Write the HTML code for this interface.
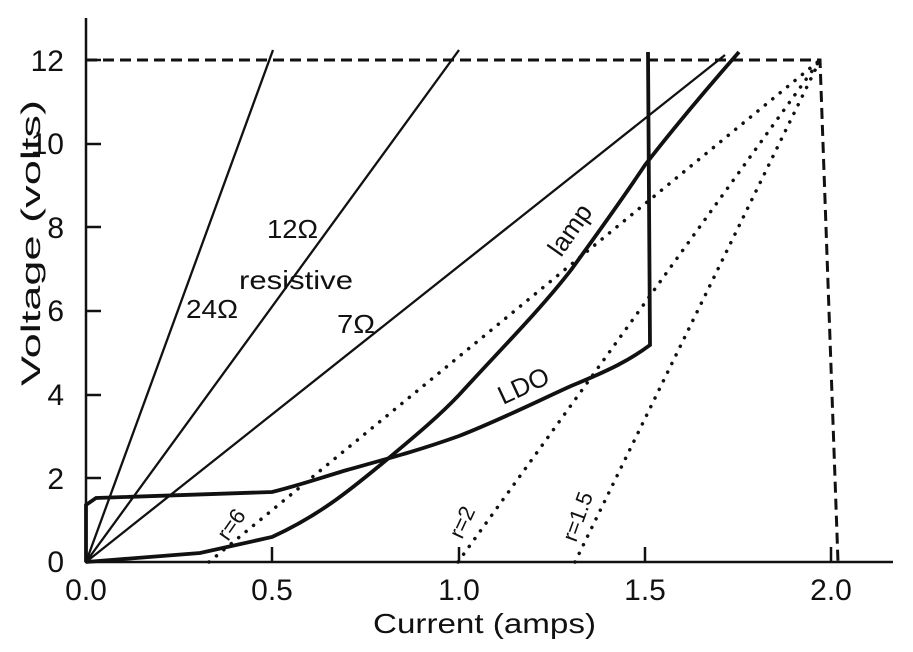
<!DOCTYPE html>
<html><head><style>body{margin:0;background:#fff}svg{display:block}</style></head><body>
<svg width="913" height="652" xmlns="http://www.w3.org/2000/svg" font-family="Liberation Sans, Arial, sans-serif" fill="none" stroke="#111">
<g stroke-width="2.5">
<line x1="86" y1="18" x2="86" y2="563"/>
<line x1="85" y1="562" x2="893" y2="562"/>
<line x1="86" y1="478" x2="101" y2="478"/><line x1="86" y1="395" x2="101" y2="395"/><line x1="86" y1="311" x2="101" y2="311"/><line x1="86" y1="227" x2="101" y2="227"/><line x1="86" y1="144" x2="101" y2="144"/><line x1="86" y1="60" x2="101" y2="60"/>
<line x1="272" y1="562" x2="272" y2="547"/><line x1="459" y1="562" x2="459" y2="547"/><line x1="645" y1="562" x2="645" y2="547"/><line x1="831" y1="562" x2="831" y2="547"/>
</g>
<g stroke-width="2.3">
<line x1="86" y1="562" x2="273" y2="50"/>
<line x1="86" y1="562" x2="459" y2="50"/>
<line x1="86" y1="562" x2="725" y2="55"/>
</g>
<g stroke-width="3.8">
<path d="M86,562 L200,553 L272,537 C320,515 350,490 384,462 C420,432 440,415 459,395 C500,350 540,310 571,270 C600,230 625,195 645,165 C680,120 710,85 739,52"/>
<path d="M86,562 L86,505 L96,498 L272,492 C300,485 320,478 347,470 C390,458 420,450 459,436 C500,420 540,400 571,386 C610,370 630,360 650,345 L648,52"/>
</g>
<g stroke-width="3" stroke-dasharray="11,6">
<path d="M86,60 L820,60 L838,562"/>
</g>
<g stroke-width="3.5" stroke-dasharray="0.1,9.5" stroke-linecap="round">
<line x1="209" y1="562" x2="820" y2="60"/>
<line x1="458" y1="562" x2="820" y2="60"/>
<line x1="575" y1="562" x2="820" y2="60"/>
</g>
<g fill="#111" stroke="none" font-size="30">
<text x="64" y="572" text-anchor="end">0</text><text x="64" y="489" text-anchor="end">2</text><text x="64" y="405" text-anchor="end">4</text><text x="64" y="321" text-anchor="end">6</text><text x="64" y="238" text-anchor="end">8</text><text x="64" y="154" text-anchor="end">10</text><text x="64" y="71" text-anchor="end">12</text>
<text x="86" y="600" text-anchor="middle">0.0</text><text x="272" y="600" text-anchor="middle">0.5</text><text x="459" y="600" text-anchor="middle">1.0</text><text x="645" y="600" text-anchor="middle">1.5</text><text x="831" y="600" text-anchor="middle">2.0</text>
<text x="373" y="633" font-size="28" textLength="223" lengthAdjust="spacingAndGlyphs">Current (amps)</text>
<text transform="translate(40,386) rotate(-90)" font-size="27" textLength="286" lengthAdjust="spacingAndGlyphs">Voltage (volts)</text>
<text x="186" y="318" font-size="26" textLength="52" lengthAdjust="spacingAndGlyphs">24Ω</text>
<text x="267" y="238" font-size="26" textLength="51" lengthAdjust="spacingAndGlyphs">12Ω</text>
<text x="239" y="289" font-size="26" textLength="114" lengthAdjust="spacingAndGlyphs">resistive</text>
<text x="337" y="333" font-size="26" textLength="38" lengthAdjust="spacingAndGlyphs">7Ω</text>
<text transform="translate(561,258) rotate(-55)" font-size="26">lamp</text>
<text transform="translate(503,405) rotate(-25)" font-size="26">LDO</text>
<text transform="translate(228,542) rotate(-55)" font-size="22">r=6</text>
<text transform="translate(462,540) rotate(-65)" font-size="22">r=2</text>
<text transform="translate(576,543) rotate(-70)" font-size="22">r=1.5</text>
</g>
</svg>
</body></html>
